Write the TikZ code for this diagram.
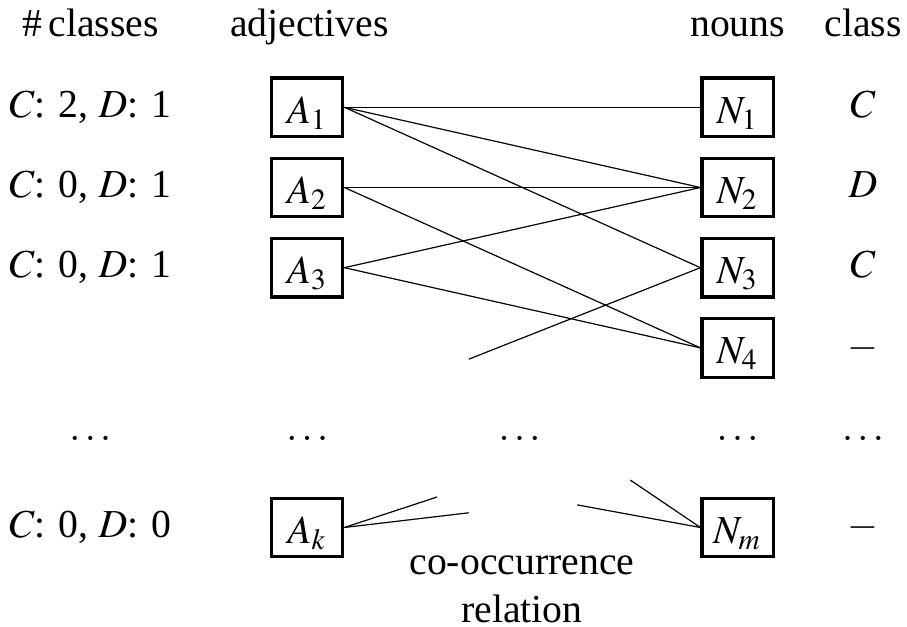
\documentclass[tikz,border=0pt]{standalone}
\usepackage{mathptmx}
\usepackage{fontspec}
\setmainfont{Liberation Serif}
\usepackage{tikz}

\begin{document}
\begin{tikzpicture}[
  wordbox/.style={draw, rectangle, thick, minimum width=0.63cm, minimum height=0.52cm, inner sep=0pt, text height=0.35cm, text depth=0.07cm},
  lbl/.style={anchor=base, inner sep=0pt},
  cooc/.style={line width=0.3pt}
]
\useasboundingbox (0,0) rectangle (8.03,-5.55);

% Column headers
\node[lbl] (hcls) at (0.80,-0.32) {\#\,classes};
\node[lbl] (hadj) at (2.74,-0.32) {adjectives};
\node[lbl] (hnoun) at (6.53,-0.32) {nouns};
\node[lbl] (hclass) at (7.64,-0.32) {class};

% Class counts per adjective
\node[lbl] (cnt1) at (0.80,-1.04) {$C$: 2, $D$: 1};
\node[lbl] (cnt2) at (0.80,-1.75) {$C$: 0, $D$: 1};
\node[lbl] (cnt3) at (0.80,-2.46) {$C$: 0, $D$: 1};
\node[lbl] (cntk) at (0.80,-4.76) {$C$: 0, $D$: 0};

% Adjectives
\node[wordbox] (a1) at (2.72,-0.95) {$A_1$};
\node[wordbox] (a2) at (2.72,-1.66) {$A_2$};
\node[wordbox] (a3) at (2.72,-2.37) {$A_3$};
\node[wordbox] (ak) at (2.72,-4.67) {$A_k$};

% Nouns
\node[wordbox] (n1) at (6.53,-0.95) {$N_1$};
\node[wordbox] (n2) at (6.53,-1.66) {$N_2$};
\node[wordbox] (n3) at (6.53,-2.37) {$N_3$};
\node[wordbox] (n4) at (6.53,-3.08) {$N_4$};
\node[wordbox] (nm) at (6.53,-4.67) {$N_m$};

% Noun classes
\node[lbl] (cl1) at (7.64,-1.04) {$C$};
\node[lbl] (cl2) at (7.64,-1.75) {$D$};
\node[lbl] (cl3) at (7.64,-2.46) {$C$};
\node[lbl] (cl4) at (7.64,-3.17) {$-$};
\node[lbl] (clm) at (7.64,-4.76) {$-$};

% Elided rows
\node[lbl] (dots1) at (0.80,-3.90) {$\dots$};
\node[lbl] (dots2) at (2.72,-3.90) {$\dots$};
\node[lbl] (dots3) at (4.60,-3.90) {$\dots$};
\node[lbl] (dots4) at (6.53,-3.90) {$\dots$};
\node[lbl] (dots5) at (7.64,-3.90) {$\dots$};

% Co-occurrence edges
\draw[cooc] (a1.east) -- (n1.west);
\draw[cooc] (a1.east) -- (n2.west);
\draw[cooc] (a1.east) -- (n3.west);
\draw[cooc] (a2.east) -- (n2.west);
\draw[cooc] (a2.east) -- (n4.west);
\draw[cooc] (a3.east) -- (n2.west);
\draw[cooc] (a3.east) -- (n4.west);

% Edges to elided nodes
\coordinate (e3) at (4.15,-3.18);
\coordinate (ek1) at (3.87,-4.40);
\coordinate (ek2) at (4.15,-4.54);
\coordinate (em1) at (5.58,-4.25);
\coordinate (em2) at (5.11,-4.47);
\draw[cooc] (n3.west) -- (e3);
\draw[cooc] (ak.east) -- (ek1);
\draw[cooc] (ak.east) -- (ek2);
\draw[cooc] (nm.west) -- (em1);
\draw[cooc] (nm.west) -- (em2);

\node[lbl, align=center] (rel) at (4.62,-5.51) {co-occurrence\\relation};
\end{tikzpicture}
\end{document}
